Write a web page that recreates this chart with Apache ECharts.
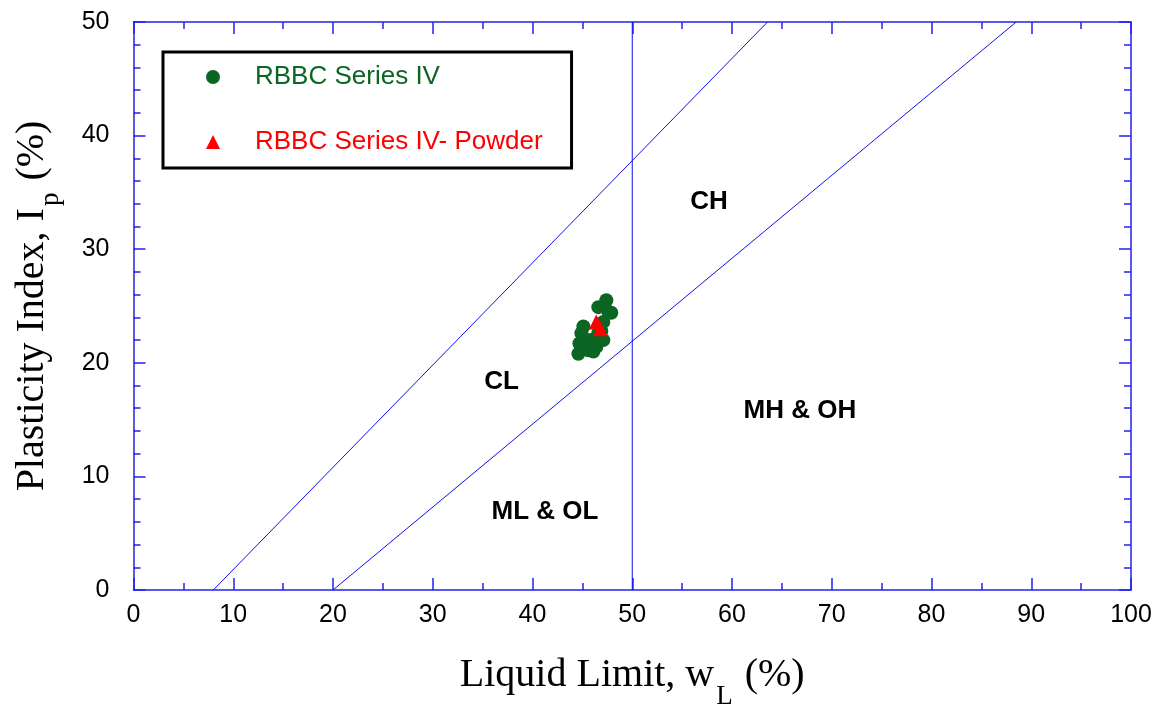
<!DOCTYPE html>
<html>
<head>
<meta charset="utf-8">
<script src="https://cdn.jsdelivr.net/npm/echarts@6/dist/echarts.min.js"></script>
<style>html,body{margin:0;padding:0;background:#fff}#c{width:1162px;height:705px}</style>
</head>
<body>
<div id="c"></div>
<script>
// Data
const seriesIV_x = [47.4, 46.6, 47.6, 47.9, 47.1, 45.1, 44.9, 44.7, 44.6, 45.6, 46.4, 47.1, 45.8, 46.6, 46.9, 46.1];
const seriesIV_y = [25.5, 24.9, 24.5, 24.4, 23.6, 23.2, 22.6, 21.7, 20.8, 21.1, 21.4, 22.0, 22.0, 22.6, 22.8, 21.0];
const powder_x = [46.4, 46.8];
const powder_y = [23.6, 23.0];
const uLine = [[8, 0], [63.56, 50]];
const aLine = [[20, 0], [88.49, 50]];
const llLine = [[50, 0], [50, 50]];
const regionNames = ['CH', 'CL', 'MH & OH', 'ML & OL'];
const regionX = [57.7, 36.9, 66.8, 41.25];
const regionY = [34.2, 18.3, 15.8, 6.9];
const xTicks = {min: 0, max: 100, interval: 10};
const yTicks = {min: 0, max: 50, interval: 10};

const blue = '#2222ee';
const chart = echarts.init(document.getElementById('c'));
const axisCommon = {
  axisLine: {show: true, onZero: false, lineStyle: {color: blue, width: 1.5}},
  axisTick: {show: true, inside: true, length: 12, lineStyle: {color: blue, width: 1.5}},
  minorTick: {show: true, length: 7, lineStyle: {color: blue, width: 1.5}},
  splitLine: {show: false}
};
const labelStyle = {color: '#000', fontFamily: 'Liberation Sans, Arial', fontSize: 25};
const lineSeries = (d) => ({
  type: 'line', data: d, symbol: 'none', silent: true,
  lineStyle: {color: '#1010ee', width: 1}, z: 1
});
const titleRich = (size, subSize, drop) => ({
  m: {fontFamily: 'Liberation Serif, Times New Roman', fontSize: size, color: '#000', lineHeight: size + 2},
  s: {fontFamily: 'Liberation Serif, Times New Roman', fontSize: subSize, color: '#000', padding: [drop, 2, 0, 2], lineHeight: 30}
});
chart.setOption({
  animation: false,
  backgroundColor: '#fff',
  grid: {left: 133.5, right: 31, top: 22, bottom: 115, containLabel: false, outerBoundsMode: 'none'},
  xAxis: [
    Object.assign({}, axisCommon, {
      type: 'value', min: xTicks.min, max: xTicks.max, interval: xTicks.interval, position: 'bottom',
      minorTick: Object.assign({}, axisCommon.minorTick, {splitNumber: 2}),
      axisLabel: Object.assign({margin: 13}, labelStyle),
      name: '{m|Liquid Limit, w}{s|L}{m| (%)}', nameLocation: 'middle', nameGap: 64,
      nameTextStyle: {rich: titleRich(40, 27, 44)}
    }),
    Object.assign({}, axisCommon, {
      type: 'value', min: xTicks.min, max: xTicks.max, interval: xTicks.interval, position: 'top',
      minorTick: Object.assign({}, axisCommon.minorTick, {splitNumber: 2}),
      axisLabel: {show: false}
    })
  ],
  yAxis: [
    Object.assign({}, axisCommon, {
      type: 'value', min: yTicks.min, max: yTicks.max, interval: yTicks.interval, position: 'left',
      minorTick: Object.assign({}, axisCommon.minorTick, {splitNumber: 5}),
      axisLabel: Object.assign({margin: 24}, labelStyle),
      name: '{m|Plasticity Index, I}{s|p}{m| (%)}', nameLocation: 'middle', nameGap: 80,
      nameTextStyle: {rich: titleRich(40, 27, 37)}
    }),
    Object.assign({}, axisCommon, {
      type: 'value', min: yTicks.min, max: yTicks.max, interval: yTicks.interval, position: 'right',
      minorTick: Object.assign({}, axisCommon.minorTick, {splitNumber: 5}),
      axisLabel: {show: false}
    })
  ],
  legend: {
    orient: 'vertical', left: 163, top: 52,
    padding: [10, 29, 11, 43], itemGap: 35, itemWidth: 14, itemHeight: 14,
    borderColor: '#000', borderWidth: 3, backgroundColor: '#fff',
    selectedMode: false,
    textStyle: {fontFamily: 'Liberation Sans, Arial', fontSize: 26, lineHeight: 30, padding: [0, 0, 0, 30]},
    data: [
      {name: 'RBBC Series IV', icon: 'circle', textStyle: {color: '#0b6623'}},
      {name: 'RBBC Series IV- Powder', icon: 'triangle', textStyle: {color: '#ff0000'}}
    ]
  },
  series: [
    lineSeries(uLine), lineSeries(aLine), lineSeries(llLine),
    {
      type: 'scatter', silent: true, symbolSize: 0, z: 2,
      itemStyle: {opacity: 1},
      data: regionNames.map((n, i) => ({name: n, value: [regionX[i], regionY[i]]})),
      label: {show: true, position: 'inside', formatter: p => p.name, opacity: 1,
        fontFamily: 'Liberation Sans, Arial', fontWeight: 'bold', fontSize: 26, color: '#000'}
    },
    {
      name: 'RBBC Series IV', type: 'scatter', symbol: 'circle', symbolSize: 14, z: 3,
      itemStyle: {color: '#0b6623', opacity: 1},
      data: seriesIV_x.map((x, i) => [x, seriesIV_y[i]])
    },
    {
      name: 'RBBC Series IV- Powder', type: 'scatter', symbol: 'triangle', symbolSize: 15, z: 4,
      itemStyle: {color: '#ff0000', opacity: 1},
      data: powder_x.map((x, i) => [x, powder_y[i]])
    }
  ]
});
</script>
</body>
</html>
